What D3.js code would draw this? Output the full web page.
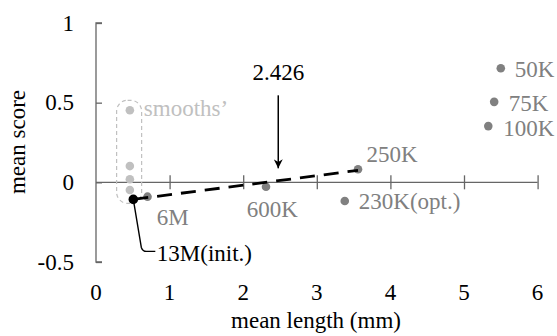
<!DOCTYPE html>
<html><head><meta charset="utf-8">
<script src="https://cdn.jsdelivr.net/npm/d3@7"></script>
<style>
html,body{margin:0;padding:0;background:#fff;}
svg text{font-family:"Liberation Serif","Times New Roman",serif;font-size:23px;}
</style></head>
<body><svg id="c" width="557" height="336"></svg>
<script>
// ---- data ----
const xTicks = [0,1,2,3,4,5,6];
const yTicks = [-0.5,0,0.5,1];
const yTickLabels = ["-0.5","0","0.5","1"];
const pointLabels = ["50K","75K","100K","250K","230K(opt.)","600K","6M"];
const pointX = [5.50,5.41,5.33,3.56,3.38,2.31,0.70];
const pointY = [0.716,0.505,0.353,0.082,-0.117,-0.028,-0.09];
const initLabel = "13M(init.)";
const initX = 0.507, initY = -0.107;
const smoothLabel = "smooths\u2019";
const smoothX = [0.46,0.46,0.46,0.46];
const smoothY = [0.452,0.102,0.019,-0.048];
const fitX = [0.507,3.56];
const fitY = [-0.107,0.075];
const crossValue = 2.426;
const crossLabel = "2.426";

// ---- layout / style ----
const svg = d3.select("#c");
const x = d3.scaleLinear().domain([0,6]).range([96,537.6]);
const y = d3.scaleLinear().domain([-0.5,1]).range([262,23]);
const axisColor = "#666", gray = "#808080", light = "#c0c0c0";
// label offsets (px) relative to each point
const labelOff = [[14,8.4],[14.5,9],[15,9.5],[8.4,-7.5],[14,8.5],[-19.3,30.3],[9.3,28.8]];

// y axis
const yAxis = svg.append("g").attr("transform",`translate(${x(0)},0)`)
  .call(d3.axisRight(y).tickValues(yTicks).tickSize(6).tickFormat(""));
yAxis.select(".domain").attr("stroke",axisColor).attr("stroke-width",1.3).attr("d",`M6,${y(1)}H0V${y(-0.5)}H6`);
yAxis.selectAll(".tick line").attr("stroke",axisColor).attr("stroke-width",1.3);
svg.append("g").selectAll("text").data(yTicks).join("text")
  .attr("x",74).attr("y",d=>y(d)).attr("dy","0.33em").attr("text-anchor","end")
  .text((d,i)=>yTickLabels[i]);

// x axis (at y=0)
const xAxis = svg.append("g").attr("transform",`translate(0,${y(0)})`)
  .call(d3.axisBottom(x).tickValues(xTicks.slice(1)).tickSize(7).tickFormat(""));
xAxis.select(".domain").attr("stroke",axisColor).attr("stroke-width",1.3).attr("d",`M${x(0)},0H${x(6)}`);
xAxis.selectAll(".tick line").attr("stroke",axisColor).attr("stroke-width",1.3).attr("y1",-7).attr("y2",7);
svg.append("g").selectAll("text").data(xTicks).join("text")
  .attr("x",d=>x(d)).attr("y",299.5).attr("text-anchor","middle").text(d=>d);

// axis titles
svg.append("text").attr("x",316).attr("y",328).attr("text-anchor","middle").text("mean length (mm)");
svg.append("text").attr("transform","translate(25,142) rotate(-90)").attr("text-anchor","middle").text("mean score");

// smooths group box
svg.append("rect")
  .attr("x",x(0.28)).attr("y",y(0.515))
  .attr("width",x(0.62)-x(0.28)).attr("height",y(-0.132)-y(0.515))
  .attr("rx",11).attr("ry",11)
  .attr("fill","none").attr("stroke",light).attr("stroke-width",1.2).attr("stroke-dasharray","4,3");
svg.append("g").selectAll("circle").data(smoothX).join("circle")
  .attr("cx",d=>x(d)).attr("cy",(d,i)=>y(smoothY[i])).attr("r",4.3).attr("fill",light);
svg.append("text").attr("x",x(smoothX[0])+14).attr("y",y(smoothY[0])+5.5)
  .attr("fill",light).text(smoothLabel);

// gray points and labels
svg.append("g").selectAll("circle").data(pointX).join("circle")
  .attr("cx",d=>x(d)).attr("cy",(d,i)=>y(pointY[i])).attr("r",4.3).attr("fill",gray);
svg.append("g").selectAll("text").data(pointLabels).join("text")
  .attr("x",(d,i)=>x(pointX[i])+labelOff[i][0]).attr("y",(d,i)=>y(pointY[i])+labelOff[i][1])
  .attr("fill",gray).text(d=>d);

// fitted dashed line
svg.append("path")
  .attr("d",d3.line().x(d=>x(d[0])).y(d=>y(d[1]))(fitX.map((v,i)=>[v,fitY[i]])))
  .attr("fill","none").attr("stroke","#000").attr("stroke-width",2.8).attr("stroke-dasharray","15,9");

// init point, leader and label
const ix = x(initX), iy = y(initY);
svg.append("path").attr("d",`M${ix},${iy}L${ix+8},${iy+48}Q${ix+9.5},${iy+52} ${ix+13},${iy+52}H${ix+22}`)
  .attr("fill","none").attr("stroke","#000").attr("stroke-width",1.4);
svg.append("circle").attr("cx",ix).attr("cy",iy).attr("r",4.8).attr("fill","#000");
svg.append("text").attr("x",ix+23.5).attr("y",iy+61.5).attr("fill","#000").text(initLabel);

// crossing arrow annotation
const ax = x(crossValue)+3.7;
svg.append("defs").append("marker").attr("id","ah").attr("viewBox","0 0 10 10")
  .attr("refX",10).attr("refY",5).attr("markerWidth",9).attr("markerHeight",9)
  .attr("markerUnits","userSpaceOnUse").attr("orient","auto")
  .append("path").attr("d","M0,0L10,5L0,10L3,5Z").attr("fill","#000");
svg.append("line").attr("x1",ax).attr("x2",ax).attr("y1",y(0)-87).attr("y2",y(0)-14)
  .attr("stroke","#000").attr("stroke-width",1.5).attr("marker-end","url(#ah)");
svg.append("text").attr("x",ax).attr("y",80).attr("text-anchor","middle").text(crossLabel);
</script></body></html>
